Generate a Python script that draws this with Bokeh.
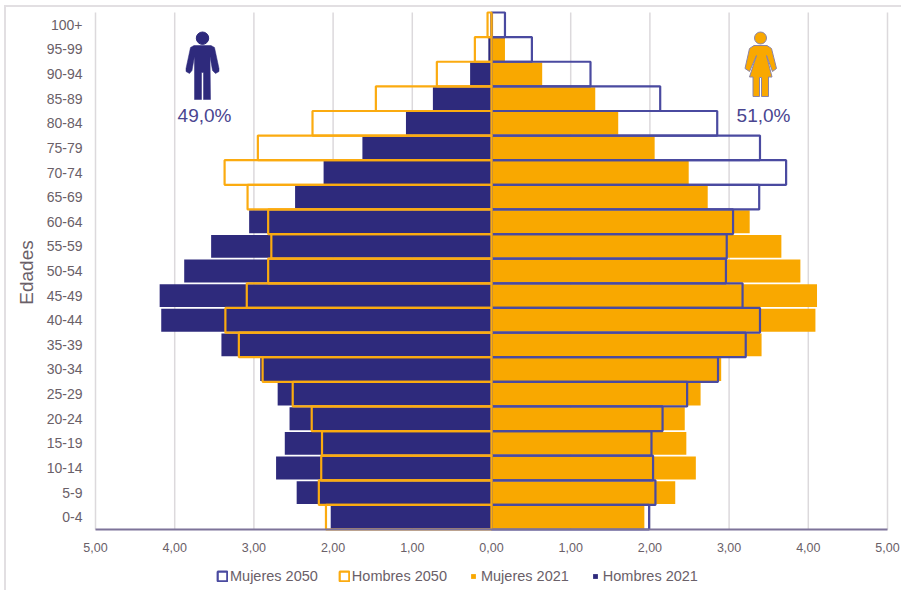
from math import pi

from bokeh.embed import file_html
from bokeh.models import FixedTicker, Label, Legend, LegendItem
from bokeh.plotting import figure
from bokeh.resources import INLINE

# Population by age group, percent of total
ages = ["0-4", "5-9", "10-14", "15-19", "20-24", "25-29", "30-34", "35-39", "40-44", "45-49",
        "50-54", "55-59", "60-64", "65-69", "70-74", "75-79", "80-84", "85-89", "90-94", "95-99", "100+"]
men_2021 = [2.03, 2.46, 2.72, 2.61, 2.55, 2.70, 2.92, 3.41, 4.17, 4.19,
            3.88, 3.54, 3.06, 2.48, 2.12, 1.63, 1.08, 0.74, 0.27, 0.04, 0.01]
women_2021 = [1.93, 2.32, 2.58, 2.46, 2.44, 2.64, 2.90, 3.41, 4.09, 4.11,
              3.90, 3.66, 3.26, 2.73, 2.49, 2.06, 1.60, 1.31, 0.64, 0.17, 0.02]
men_2050 = [2.09, 2.18, 2.15, 2.14, 2.27, 2.51, 2.89, 3.19, 3.36, 3.09,
            2.82, 2.78, 2.82, 3.08, 3.37, 2.95, 2.26, 1.46, 0.69, 0.21, 0.05]
women_2050 = [1.99, 2.07, 2.04, 2.02, 2.16, 2.47, 2.86, 3.21, 3.39, 3.17,
              2.96, 2.97, 3.05, 3.38, 3.72, 3.39, 2.85, 2.13, 1.25, 0.51, 0.17]
x_ticks = [-5, -4, -3, -2, -1, 0, 1, 2, 3, 4, 5]
x_tick_labels = ["5,00", "4,00", "3,00", "2,00", "1,00", "0,00", "1,00", "2,00", "3,00", "4,00", "5,00"]
men_share = "49,0%"
women_share = "51,0%"

NAVY = "#2e2a7c"
ORANGE = "#f9a800"
BLUE_LINE = "#4a4aa0"
ORANGE_LINE = "#fbab10"
TEXT = "#6a6068"
FONT = "Liberation Sans"

# The frame fills the figure; axes are pinned inside it and leave room for labels and legend.
# A page frame drawn with CSS surrounds the figure, which starts at (6, 7).
PAGE_L, PAGE_T = 6, 7
PLOT_W, PLOT_H = 901 - PAGE_L, 592 - PAGE_T
PX_PER_UNIT = 79.2
ROW_PX = 24.62
CENTER_PX = 491
ROWS_TOP_PX = 12
ROW_TOP = 20.5
ROW_BOTTOM = -0.5


def px_x(px):
    return (px - CENTER_PX) / PX_PER_UNIT


def px_y(py):
    return ROW_TOP - (py - ROWS_TOP_PX) / ROW_PX


p = figure(width=PLOT_W, height=PLOT_H, output_backend="svg", toolbar_location=None,
           x_range=(px_x(PAGE_L), px_x(901)), y_range=(px_y(592), px_y(PAGE_T)),
           frame_width=PLOT_W, frame_height=PLOT_H, min_border=0,
           outline_line_color=None, background_fill_color="white", border_fill_color="white",
           margin=(PAGE_T, 0, 0, PAGE_L))
p.styles = {"box-shadow": "-2px -2px 0 0 #e2dfe2, 0 -2px 0 0 #e2dfe2"}

# Axes and grid
p.xaxis.fixed_location = ROW_BOTTOM
p.xaxis.bounds = (-5, 5)
p.xaxis.ticker = FixedTicker(ticks=x_ticks)
p.xaxis.major_label_overrides = dict(zip(x_ticks, x_tick_labels))
p.xaxis.major_label_text_font = FONT
p.xaxis.major_label_text_font_size = "12.5px"
p.xaxis.major_label_text_color = TEXT
p.xaxis.major_tick_line_color = None
p.xaxis.minor_tick_line_color = None
p.xaxis.major_label_standoff = 7
p.xaxis.axis_line_color = "#7d7399"
p.xaxis.axis_line_width = 2

positions = list(range(len(ages)))
p.yaxis.fixed_location = -5
p.yaxis.bounds = (ROW_BOTTOM, ROW_TOP)
p.yaxis.ticker = FixedTicker(ticks=positions)
p.yaxis.major_label_overrides = dict(zip(positions, ages))
p.yaxis.major_label_text_font = FONT
p.yaxis.major_label_text_font_size = "14px"
p.yaxis.major_label_text_color = TEXT
p.yaxis.major_tick_line_color = None
p.yaxis.minor_tick_line_color = None
p.yaxis.axis_line_color = None
p.yaxis.major_label_standoff = 7

p.grid.visible = False
p.segment(x0=x_ticks, x1=x_ticks, y0=ROW_BOTTOM, y1=ROW_TOP, line_color="#dcd9dc", line_width=1.5)

p.add_layout(Label(x=px_x(26), y=px_y(272), text="Edades", angle=pi / 2, text_align="center",
                   text_baseline="middle", text_font=FONT, text_font_size="19px", text_color=TEXT))

# Population bars, 2021 filled and 2050 outlined on top
p.hbar(y=positions, left=[-v for v in men_2021], right=0, height=0.93, fill_color=NAVY, line_color=None)
p.hbar(y=positions, left=0, right=women_2021, height=0.93, fill_color=ORANGE, line_color=None)
bars_women_2050 = p.hbar(y=positions, left=0, right=women_2050, height=1.0, fill_alpha=0,
                         line_color=BLUE_LINE, line_width=2.2)
bars_men_2050 = p.hbar(y=positions, left=[-v for v in men_2050], right=0, height=1.0, fill_alpha=0,
                       line_color=ORANGE_LINE, line_width=2.2)

# Male pictogram
p.circle(x=[px_x(202)], y=[px_y(37.7)], radius=6.2, radius_units="screen", color=NAVY)
male_body = [(193.5, 45), (210.5, 45), (214, 47), (218.5, 68), (218.5, 71), (215, 73), (212, 70), (209.5, 56),
             (210, 99), (203, 99), (203, 72), (201, 72), (201, 99), (194, 99), (194, 56),
             (191.5, 70), (189, 73), (185.5, 71), (185.5, 68), (190, 47)]
p.patch([px_x(a) for a, _ in male_body], [px_y(b) for _, b in male_body], color=NAVY, line_width=0.5)

# Female pictogram
p.circle(x=[px_x(760)], y=[px_y(37.5)], radius=6, radius_units="screen",
         fill_color=ORANGE, line_color="#8a84a8", line_width=1)
female_body = [(753.5, 45), (766.5, 45), (771, 48), (776, 68), (772, 71), (766, 55), (771.5, 76.5), (768, 76.5),
               (768, 96), (761, 96), (761, 77), (759, 77), (759, 96), (752.5, 96), (752.5, 76.5),
               (749, 76.5), (756, 55), (749, 71), (744.5, 68), (749, 48)]
p.patch([px_x(a) for a, _ in female_body], [px_y(b) for _, b in female_body],
        fill_color=ORANGE, line_color="#8a84a8", line_width=1)

# Sex shares below the pictograms
for share, cx in ((men_share, 204), (women_share, 763)):
    p.add_layout(Label(x=px_x(cx), y=px_y(115), text=share, text_align="center", text_baseline="middle",
                       text_font=FONT, text_font_size="19px", text_color="#4a4590"))

# Legend: outlined 2050 bars give large keys, the small square markers stand for the filled 2021 bars
no_point = [float("nan")]
key_women_2021 = p.scatter(no_point, no_point, marker="square", size=5, fill_color=ORANGE, line_color=None)
key_men_2021 = p.scatter(no_point, no_point, marker="square", size=5, fill_color=NAVY, line_color=None)

legend = Legend(items=[LegendItem(label="Mujeres 2050", renderers=[bars_women_2050]),
                       LegendItem(label="Hombres 2050", renderers=[bars_men_2050]),
                       LegendItem(label="Mujeres 2021", renderers=[key_women_2021]),
                       LegendItem(label="Hombres 2021", renderers=[key_men_2021])],
                orientation="horizontal", location=(210, 8),
                border_line_color=None, background_fill_alpha=0,
                padding=0, margin=0, spacing=20, label_standoff=2,
                glyph_width=12, glyph_height=12, label_height=14,
                label_text_font=FONT, label_text_font_size="14.5px", label_text_color=TEXT)
p.add_layout(legend, "center")

open("out.html", "w").write(file_html(p, INLINE))
